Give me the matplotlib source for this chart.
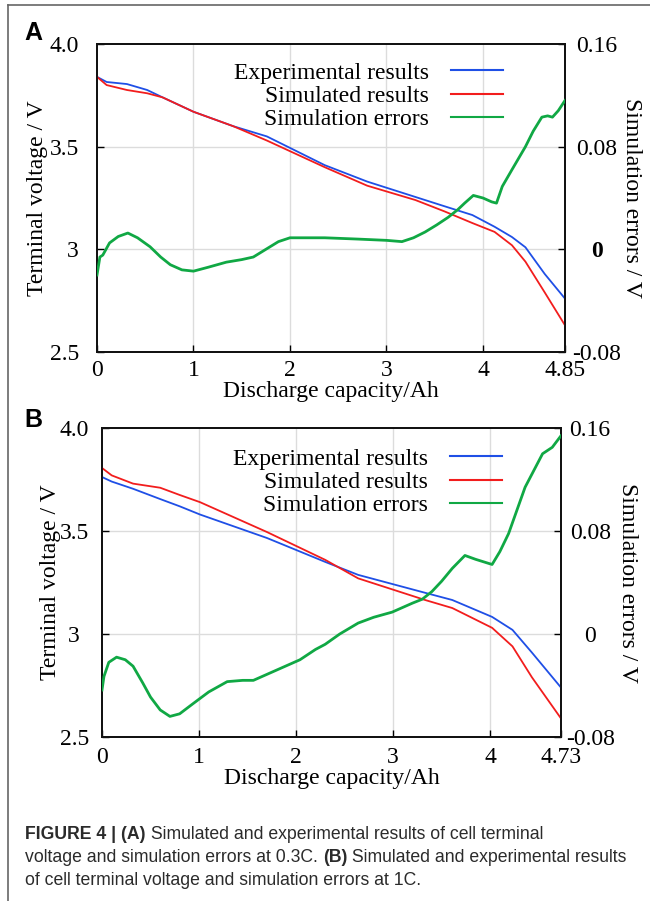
import matplotlib
matplotlib.use("Agg")
import matplotlib.pyplot as plt
from matplotlib.lines import Line2D

# ---------------- data ----------------
# Panel A (0.3C)
xa_v = [0, 0.1, 0.31, 0.52, 0.68, 1.0, 1.41, 1.76, 2.36, 2.8, 3.3, 3.6, 3.89, 4.12, 4.3, 4.44, 4.64, 4.85]
va_exp = [3.84, 3.815, 3.805, 3.776, 3.74, 3.67, 3.60, 3.55, 3.41, 3.33, 3.255, 3.21, 3.167, 3.11, 3.06, 3.01, 2.88, 2.76]
va_sim = [3.84, 3.80, 3.776, 3.76, 3.74, 3.67, 3.60, 3.53, 3.40, 3.31, 3.24, 3.185, 3.128, 3.085, 3.02, 2.94, 2.79, 2.63]

xa_e = [0.0, 0.03, 0.06, 0.13, 0.22, 0.32, 0.42, 0.55, 0.66, 0.76, 0.88, 1.0, 1.15, 1.34, 1.50, 1.62,
        1.75, 1.88, 2.0, 2.36, 2.7, 3.0, 3.16, 3.28, 3.40, 3.52, 3.64, 3.74, 3.81, 3.90, 4.0, 4.09,
        4.14, 4.2, 4.3, 4.44, 4.52, 4.61, 4.67, 4.72, 4.78, 4.85]
ea = [-0.020, -0.006, -0.0045, 0.005, 0.010, 0.0127, 0.009, 0.002, -0.006, -0.012, -0.016, -0.017,
      -0.014, -0.010, -0.008, -0.006, 0.000, 0.006, 0.009, 0.009, 0.008, 0.007, 0.006, 0.009, 0.0135,
      0.019, 0.025, 0.031, 0.036, 0.042, 0.040, 0.037, 0.036, 0.049, 0.062, 0.080, 0.092, 0.103,
      0.104, 0.103, 0.108, 0.116]

# Panel B (1C)
xb_v = [0, 0.1, 0.32, 0.6, 0.8, 1.01, 1.70, 2.30, 2.64, 3.33, 3.61, 4.02, 4.23, 4.43, 4.73]
vb_exp = [3.762, 3.74, 3.705, 3.655, 3.62, 3.58, 3.466, 3.35, 3.287, 3.20, 3.165, 3.083, 3.02, 2.91, 2.74]
vb_sim = [3.806, 3.77, 3.73, 3.71, 3.675, 3.64, 3.495, 3.36, 3.27, 3.165, 3.126, 3.03, 2.94, 2.79, 2.59]

xb_e = [0.0, 0.02, 0.07, 0.15, 0.24, 0.32, 0.42, 0.5, 0.6, 0.70, 0.80, 0.94, 1.1, 1.29, 1.45, 1.56,
        1.68, 1.80, 2.04, 2.2, 2.30, 2.45, 2.64, 2.8, 2.99, 3.2, 3.30, 3.40, 3.5, 3.61, 3.74, 3.85,
        4.02, 4.1, 4.19, 4.36, 4.54, 4.64, 4.73]
eb = [-0.0435, -0.033, -0.022, -0.018, -0.020, -0.025, -0.038, -0.049, -0.059, -0.064, -0.062,
      -0.054, -0.045, -0.037, -0.036, -0.036, -0.032, -0.028, -0.020, -0.012, -0.008, 0.000, 0.0085,
      0.013, 0.017, 0.024, 0.027, 0.033, 0.041, 0.051, 0.061, 0.058, 0.054, 0.064, 0.078, 0.114,
      0.140, 0.145, 0.154]

xticks_a = [0, 1, 2, 3, 4, 4.85]
xticks_b = [0, 1, 2, 3, 4, 4.73]
xticklabels_a = ["0", "1", "2", "3", "4", "4.85"]
xticklabels_b = ["0", "1", "2", "3", "4", "4.73"]
yticks_v = [2.5, 3.0, 3.5, 4.0]
yticklabels_v = ["2.5", "3", "3.5", "4.0"]
yticks_e = [-0.08, 0.0, 0.08, 0.16]
yticklabels_e = ["-0.08", "0", "0.08", "0.16"]
legend_labels = ["Experimental results", "Simulated results", "Simulation errors"]

# ---------------- style ----------------
W, H = 650, 901
DPI = 100
SERIF = "Liberation Serif"
FS = 17
C_BLUE = "#1f4fe6"
C_RED = "#f21d1d"
C_GREEN = "#10a844"
GRID = "#dcdcdc"

fig = plt.figure(figsize=(W / DPI, H / DPI), dpi=DPI)
fig.patch.set_facecolor("white")


def px_rect(l, t, r, b):
    return [l / W, 1 - b / H, (r - l) / W, (b - t) / H]


def fx(x):
    return x / W


def fy(y):
    return 1 - y / H


def make_panel(rect, xv, vexp, vsim, xe, e, xmax, xticks, xtl, legend_anchor, left_ha, left_pad,
               right_pad, bold_zero, ylabelpad, y2labelpad, xpad):
    ax = fig.add_axes(rect)
    ax.set_xlim(0, xmax)
    ax.set_ylim(2.5, 4.0)
    ax.plot(xv, vexp, color=C_BLUE, lw=1.3, zorder=3)
    ax.plot(xv, vsim, color=C_RED, lw=1.3, zorder=3)
    ax.set_xticks(xticks)
    ax.set_xticklabels(xtl, fontfamily=SERIF, fontsize=FS)
    ax.set_yticks(yticks_v)
    ax.set_yticklabels(yticklabels_v, fontfamily=SERIF, fontsize=FS)
    for lab in ax.get_yticklabels():
        lab.set_ha(left_ha)
    for gx in xticks[1:-1]:
        ax.axvline(gx, color=GRID, lw=1.0, zorder=0)
    for gy in yticks_v[1:-1]:
        ax.axhline(gy, color=GRID, lw=1.0, zorder=0)
    ax.tick_params(axis="x", direction="in", length=5, width=1, pad=xpad, top=False)
    ax.tick_params(axis="y", direction="in", length=5, width=1, pad=left_pad)
    for s in ax.spines.values():
        s.set_linewidth(1.3)
        s.set_color("#111111")
    ax.set_xlabel("Discharge capacity/Ah", fontfamily=SERIF, fontsize=FS, labelpad=0)
    ax.set_ylabel("Terminal voltage / V", fontfamily=SERIF, fontsize=FS, labelpad=ylabelpad)

    ax2 = ax.twinx()
    ax2.set_ylim(-0.08, 0.16)
    ax2.plot(xe, e, color=C_GREEN, lw=2.0, zorder=3)
    ax2.set_yticks(yticks_e)
    ax2.set_yticklabels(yticklabels_e, fontfamily=SERIF, fontsize=FS)
    for lab in ax2.get_yticklabels():
        lab.set_ha("center")
        if bold_zero and lab.get_text() == "0":
            lab.set_fontweight("bold")
    ax2.tick_params(axis="y", direction="in", length=5, width=1, pad=right_pad)
    for s in ax2.spines.values():
        s.set_linewidth(1.3)
        s.set_color("#111111")
    ax2.set_ylabel("Simulation errors / V", fontfamily=SERIF, fontsize=FS, rotation=270,
                   labelpad=y2labelpad)

    handles = [Line2D([], [], color=C_BLUE, lw=1.5),
               Line2D([], [], color=C_RED, lw=1.5),
               Line2D([], [], color=C_GREEN, lw=1.5)]
    ax2.legend(handles, legend_labels, markerfirst=False, frameon=False,
               loc="upper right", bbox_to_anchor=legend_anchor,
               bbox_transform=fig.transFigure, borderpad=0, borderaxespad=0,
               handlelength=2.2, handletextpad=0.95, labelspacing=0.08,
               prop={"family": SERIF, "size": FS})
    return ax, ax2


axA, axA2 = make_panel(px_rect(97, 44, 565, 352), xa_v, va_exp, va_sim, xa_e, ea, 4.85,
                       xticks_a, xticklabels_a, (fx(503), fy(62)), "right", 13, 23, True, 1, 15, 5.5)
axB, axB2 = make_panel(px_rect(102, 428, 561, 737), xb_v, vb_exp, vb_sim, xb_e, eb, 4.73,
                       xticks_b, xticklabels_b, (fx(502), fy(448)), "center", 20, 21, False, -1, 17, 7)

# panel letters
fig.text(fx(24), fy(33), "A", fontfamily="Liberation Sans", fontweight="bold", fontsize=18,
         va="center", ha="left")
fig.text(fx(24), fy(420), "B", fontfamily="Liberation Sans", fontweight="bold", fontsize=18,
         va="center", ha="left")

# frame lines
fig.add_artist(Line2D([fx(8), fx(650)], [fy(5), fy(5)], color="#666666", lw=1.2))
fig.add_artist(Line2D([fx(8), fx(8)], [fy(5), fy(901)], color="#666666", lw=1.2))

# caption with mixed weight
CAP_FS = 12.7
CAP_COL = "#2b2b2b"
cap_lines = [
    [("FIGURE 4 | (A)", "bold"), (" Simulated and experimental results of cell terminal", "normal")],
    [("voltage and simulation errors at 0.3C. ", "normal"), ("(B)", "bold"),
     (" Simulated and experimental results", "normal")],
    [("of cell terminal voltage and simulation errors at 1C.", "normal")],
]
cap_y = [839, 862, 885]
renderer = fig.canvas.get_renderer()
for segs, yy in zip(cap_lines, cap_y):
    xcur = 25
    for txt, wt in segs:
        t = fig.text(fx(xcur), fy(yy), txt, fontfamily="Liberation Sans", fontweight=wt,
                     fontsize=CAP_FS, color=CAP_COL, va="baseline", ha="left")
        bb = t.get_window_extent(renderer=renderer)
        xcur += bb.width

fig.savefig("out.png", dpi=DPI)
